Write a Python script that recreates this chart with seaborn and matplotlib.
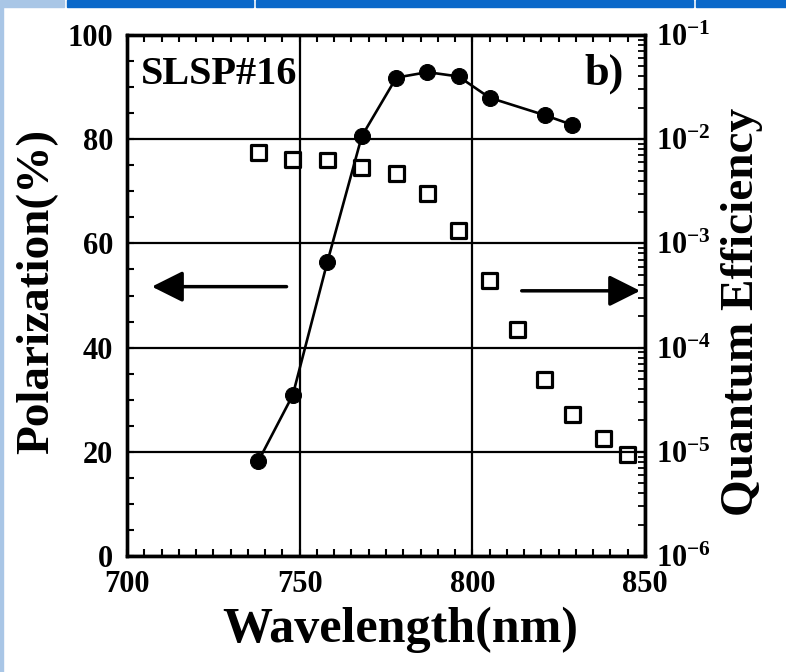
import matplotlib
matplotlib.use("Agg")
import matplotlib.pyplot as plt
import seaborn as sns
import pandas as pd
from matplotlib.ticker import FixedLocator, MultipleLocator, LogLocator, NullFormatter, FixedFormatter
from matplotlib.patches import Rectangle

# ---------------- data ----------------
wavelength_pol = [738, 748, 758, 768, 778, 787, 796, 805, 813, 821, 829, 838, 845]
polarization = [77.4, 76.1, 76.0, 74.5, 73.5, 69.5, 62.4, 52.8, 43.4, 33.8, 27.1, 22.5, 19.4]

wavelength_qe = [738, 748, 758, 768, 778, 787, 796, 805, 821, 829]
quantum_eff = [8.1e-6, 3.5e-5, 6.6e-4, 1.07e-2, 3.9e-2, 4.4e-2, 4.0e-2, 2.5e-2, 1.7e-2, 1.37e-2]

x_ticks = [700, 750, 800, 850]
pol_ticks = [0, 20, 40, 60, 80, 100]
qe_ticks = [1e-6, 1e-5, 1e-4, 1e-3, 1e-2, 1e-1]
qe_tick_labels = [r"$10^{-6}$", r"$10^{-5}$", r"$10^{-4}$", r"$10^{-3}$", r"$10^{-2}$", r"$10^{-1}$"]

sample_label = "SLSP#16"
panel_label = "b)"
x_label = "Wavelength(nm)"
left_label = "Polarization(%)"
right_label = "Quantum Efficiency"

pol_df = pd.DataFrame({"wavelength": wavelength_pol, "polarization": polarization})
qe_df = pd.DataFrame({"wavelength": wavelength_qe, "qe": quantum_eff})

# ---------------- style ----------------
sns.set_theme(style="white")
plt.rcParams.update({
    "font.family": ["Liberation Serif", "DejaVu Serif"],
    "font.weight": "bold",
    "axes.labelweight": "bold",
    "mathtext.fontset": "custom",
    "mathtext.rm": "Liberation Serif:bold",
    "mathtext.it": "Liberation Serif:bold",
    "mathtext.bf": "Liberation Serif:bold",
    "mathtext.default": "rm",
    "axes.edgecolor": "black",
    "axes.linewidth": 2.4,
    "text.color": "black",
    "axes.labelcolor": "black",
    "xtick.color": "black",
    "ytick.color": "black",
})

fig = plt.figure(figsize=(7.86, 6.72), dpi=100)
W, H = 786, 672
L, R, T, B = 127, 645, 35, 556
ax = fig.add_axes([L / W, 1 - B / H, (R - L) / W, (B - T) / H])

# web-page remnants at the edges of the scan
fig.patches.append(Rectangle((0, 1 - 7 / H), 64 / W, 7 / H, transform=fig.transFigure,
                             color="#a9c6e6", zorder=0))
for x0, x1 in [(67, 253), (256, 693), (696, 786)]:
    fig.patches.append(Rectangle((x0 / W, 1 - 7 / H), (x1 - x0) / W, 7 / H,
                                 transform=fig.transFigure, color="#0a68c9", zorder=0))
fig.patches.append(Rectangle((0, 0), 2.5 / W, 1 - 7 / H, transform=fig.transFigure,
                             color="#a9c6e6", zorder=0))

# ---------------- left axis: polarization ----------------
sns.scatterplot(data=pol_df, x="wavelength", y="polarization", marker="s", s=115,
                facecolors="none", edgecolor="black", linewidth=2.3, ax=ax, zorder=3)
ax.set_xlim(700, 850)
ax.set_ylim(0, 100)
ax.xaxis.set_major_locator(FixedLocator(x_ticks))
ax.xaxis.set_minor_locator(MultipleLocator(5))
ax.yaxis.set_major_locator(FixedLocator(pol_ticks))
ax.yaxis.set_minor_locator(MultipleLocator(5))
ax.grid(True, which="major", color="black", linewidth=1.6)
ax.set_axisbelow(True)

# ---------------- right axis: quantum efficiency ----------------
ax2 = ax.twinx()
sns.lineplot(data=qe_df, x="wavelength", y="qe", marker="o", markersize=11.5,
             color="black", linewidth=1.9, markeredgecolor="black", ax=ax2, zorder=4)
ax2.set_yscale("log")
ax2.set_ylim(1e-6, 1e-1)
ax2.yaxis.set_major_locator(FixedLocator(qe_ticks))
ax2.yaxis.set_major_formatter(FixedFormatter(qe_tick_labels))
ax2.yaxis.set_minor_locator(LogLocator(base=10, subs=range(2, 10)))
ax2.yaxis.set_minor_formatter(NullFormatter())
ax2.set_xlim(700, 850)

# ticks
ax.tick_params(axis="x", which="both", direction="in", top=True, bottom=True)
ax.tick_params(axis="y", which="both", direction="in", left=True, right=False)
ax.tick_params(which="major", length=5, width=1.5, labelsize=22, pad=10)
ax.tick_params(which="minor", length=5, width=1.5)
ax2.tick_params(axis="y", which="both", direction="in", right=True, left=False)
ax2.tick_params(which="major", length=5, width=1.5, labelsize=22, pad=8)
ax2.tick_params(which="minor", length=5, width=1.3)
for lab in ax.get_xticklabels() + ax.get_yticklabels() + ax2.get_yticklabels():
    lab.set_fontweight("bold")

# labels
ax.set_xlabel(x_label, fontsize=36, fontweight="bold")
ax.set_ylabel(left_label, fontsize=34, fontweight="bold")
ax2.set_ylabel(right_label, fontsize=34, fontweight="bold", rotation=90)
ax.xaxis.label.set_va("center")
ax.yaxis.label.set_va("center")
ax2.yaxis.label.set_va("center")
ax.xaxis.set_label_coords((400 - L) / (R - L), (B - 630) / (B - T))
ax.yaxis.set_label_coords((37 - L) / (R - L), (B - 291) / (B - T))
ax2.yaxis.set_label_coords((742 - L) / (R - L), (B - 312) / (B - T))

# annotations
ax.text(0.027, 0.925, sample_label, transform=ax.transAxes, fontsize=29,
        fontweight="bold", ha="left", va="center")
ax.text(0.96, 0.925, panel_label, transform=ax.transAxes, fontsize=32,
        fontweight="bold", ha="right", va="center")
arrow_kw = dict(arrowstyle="-|>,head_length=1.0,head_width=0.5", color="black",
                lw=2.5, mutation_scale=19, shrinkA=0, shrinkB=0)
ax.annotate("", xy=(707.2, 51.7), xytext=(746.2, 51.7), arrowprops=arrow_kw)
ax.annotate("", xy=(848.6, 50.9), xytext=(814.3, 50.9), arrowprops=arrow_kw)

for sp in ax.spines.values():
    sp.set_linewidth(2.4)
    sp.set_color("black")
for sp in ax2.spines.values():
    sp.set_linewidth(2.4)
    sp.set_color("black")

if ax2.get_legend() is not None:
    ax2.get_legend().remove()
if ax.get_legend() is not None:
    ax.get_legend().remove()

fig.savefig("out.png", dpi=100)
